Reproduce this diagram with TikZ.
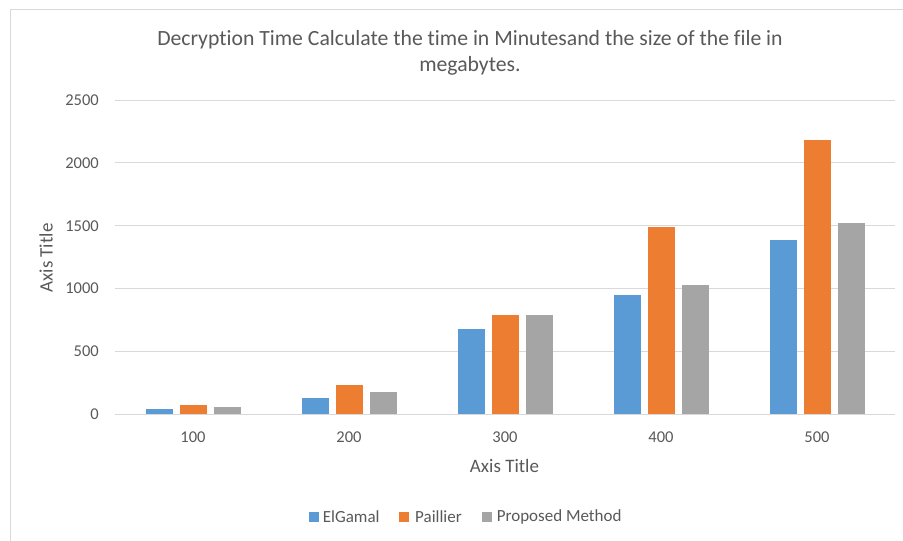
\documentclass[tikz,border=0pt]{standalone}
\usepackage{fontspec}
\setmainfont{Carlito}[RawFeature=-liga]
\definecolor{cblue}{HTML}{5B9BD5}
\definecolor{corange}{HTML}{ED7D31}
\definecolor{cgray}{HTML}{A5A5A5}
\definecolor{gridc}{HTML}{D9D9D9}
\definecolor{txt}{HTML}{595959}
\begin{document}
\begin{tikzpicture}[x=1pt,y=-1pt,
  grid/.style={draw=gridc,line width=1pt},
  ticklab/.style={text=txt,font=\fontsize{16.5}{18}\selectfont,inner sep=0pt},
  axtitle/.style={text=txt,font=\fontsize{19}{21}\selectfont,inner sep=0pt},
  legtext/.style={text=txt,font=\fontsize{17}{19}\selectfont,inner sep=0pt,anchor=west},
  legbox/.style={minimum width=10pt,minimum height=10pt,inner sep=0pt}]
\useasboundingbox (0,0) rectangle (903,541);
\fill[white] (0,0) rectangle (903,541);
% frame
\draw[gridc,line width=1pt] (10,541) -- (10,9) -- (903,9);
% title
\node[text=txt,font=\fontsize{21.7}{25.5}\selectfont,align=center,inner sep=0pt] (title) at (470,53)
  {Decryption Time Calculate the time in Minutesand the size of the file in\\megabytes.};
% gridlines and y labels
\foreach \v [count=\i from 0] in {0,500,1000,1500,2000,2500}{
  \pgfmathsetmacro{\yy}{414.3-0.1257*\v}
  \ifnum\i>0 \draw[grid] (115,\yy) -- (895,\yy);\fi
  \node[ticklab,anchor=east] (y\i) at (99,\yy) {\v};
}
% bars
\foreach \c/\a/\b/\d [count=\i] in {193/44/76/60,349/131/232/177,505/681/788/788,661/952/1492/1026,817/1386/2186/1524}{
  \fill[cblue]   (\c-47.5,414.3) rectangle (\c-20.5,414.3-0.1257*\a);
  \fill[corange] (\c-13.5,414.3) rectangle (\c+13.5,414.3-0.1257*\b);
  \fill[cgray]   (\c+20.5,414.3) rectangle (\c+47.5,414.3-0.1257*\d);
}
% x axis
\draw[gridc,line width=1.6pt] (115,414.3) -- (895,414.3);
\foreach \c/\l in {193/100,349/200,505/300,661/400,817/500}{
  \node[ticklab] (x\l) at (\c,437.3) {\l};
}
\node[axtitle] (xtitle) at (504.5,466) {Axis Title};
\node[axtitle,rotate=90] (ytitle) at (46,258) {Axis Title};
% legend
\node[legbox,fill=cblue] (lb1) at (314.3,517) {};
\node[legtext] (lt1) at (322.7,517) {ElGamal};
\node[legbox,fill=corange] (lb2) at (404.3,517) {};
\node[legtext] (lt2) at (415,517) {Paillier};
\node[legbox,fill=cgray] (lb3) at (487.3,517) {};
\node[legtext] (lt3) at (496.7,517) {Proposed Method};
\end{tikzpicture}
\end{document}
